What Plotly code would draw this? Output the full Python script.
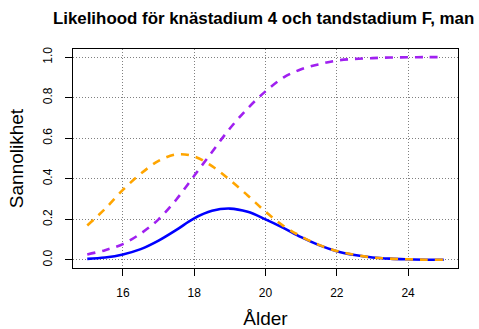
import plotly.graph_objects as go

# Age grid (years) and the three curves read at half-year steps
alder = [15.0, 15.5, 16.0, 16.5, 17.0, 17.5, 18.0, 18.5, 19.0, 19.5, 20.0,
         20.5, 21.0, 21.5, 22.0, 22.5, 23.0, 23.5, 24.0, 24.5, 25.0]

# Combined likelihood (solid blue)
likelihood = [0.005, 0.012, 0.027, 0.053, 0.095, 0.148, 0.205, 0.242, 0.253, 0.237, 0.200,
              0.158, 0.112, 0.073, 0.043, 0.024, 0.012, 0.006, 0.003, 0.001, 0.0005]

# Knee stage 4 (dashed orange)
knastadium = [0.170, 0.252, 0.345, 0.425, 0.488, 0.520, 0.510, 0.462, 0.394, 0.318, 0.238,
              0.168, 0.116, 0.074, 0.044, 0.025, 0.012, 0.006, 0.003, 0.001, 0.0005]

# Tooth stage F (dashed purple)
tandstadium = [0.027, 0.048, 0.078, 0.130, 0.200, 0.298, 0.415, 0.532, 0.648, 0.747, 0.831,
               0.899, 0.940, 0.965, 0.983, 0.991, 0.995, 0.998, 0.999, 1.000, 1.000]

x_ticks = [16, 18, 20, 22, 24]
y_ticks = [0.0, 0.2, 0.4, 0.6, 0.8, 1.0]

FONT = "Liberation Sans, Arial, Helvetica, sans-serif"

fig = go.Figure()
fig.add_trace(go.Scatter(x=alder, y=likelihood, mode="lines",
                         line=dict(color="#0000FF", width=2.6, shape="spline")))
fig.add_trace(go.Scatter(x=alder, y=knastadium, mode="lines",
                         line=dict(color="#FFA500", width=2.6, dash="8px,7px", shape="spline")))
fig.add_trace(go.Scatter(x=alder, y=tandstadium, mode="lines",
                         line=dict(color="#A020F0", width=2.6, dash="8px,7px", shape="spline")))

axis_common = dict(
    showline=True, linecolor="black", linewidth=1, mirror=True,
    ticks="outside", ticklen=7, tickcolor="black", tickwidth=1,
    showgrid=True, gridcolor="#808080", griddash="1px,2px", gridwidth=1,
    zeroline=False, automargin=False,
    tickfont=dict(family=FONT, size=12, color="black"),
)

fig.update_layout(
    width=479, height=329,
    margin=dict(l=73, r=21, t=49, b=61),
    paper_bgcolor="white", plot_bgcolor="white",
    showlegend=False,
    font=dict(family=FONT, color="black"),
    title=dict(text="<b>Likelihood för knästadium 4 och tandstadium F, man</b>",
               font=dict(family=FONT, size=16.9, color="black"),
               x=0.495, xref="paper", xanchor="center",
               y=1 - 18 / 329, yref="container", yanchor="middle"),
    xaxis=dict(range=[14.6, 25.4], tickvals=x_ticks, ticktext=[str(v) for v in x_ticks],
               ticklabelstandoff=7,
               title=dict(text="Ålder", font=dict(family=FONT, size=19, color="black"),
                          standoff=15),
               **axis_common),
    yaxis=dict(range=[-0.04, 1.04], tickvals=y_ticks, tickformat=".1f", tickangle=-90,
               ticklabelstandoff=8,
               title=dict(text="Sannolikhet", font=dict(family=FONT, size=19, color="black"),
                          standoff=12),
               **axis_common),
)

fig.write_html("out.html")
